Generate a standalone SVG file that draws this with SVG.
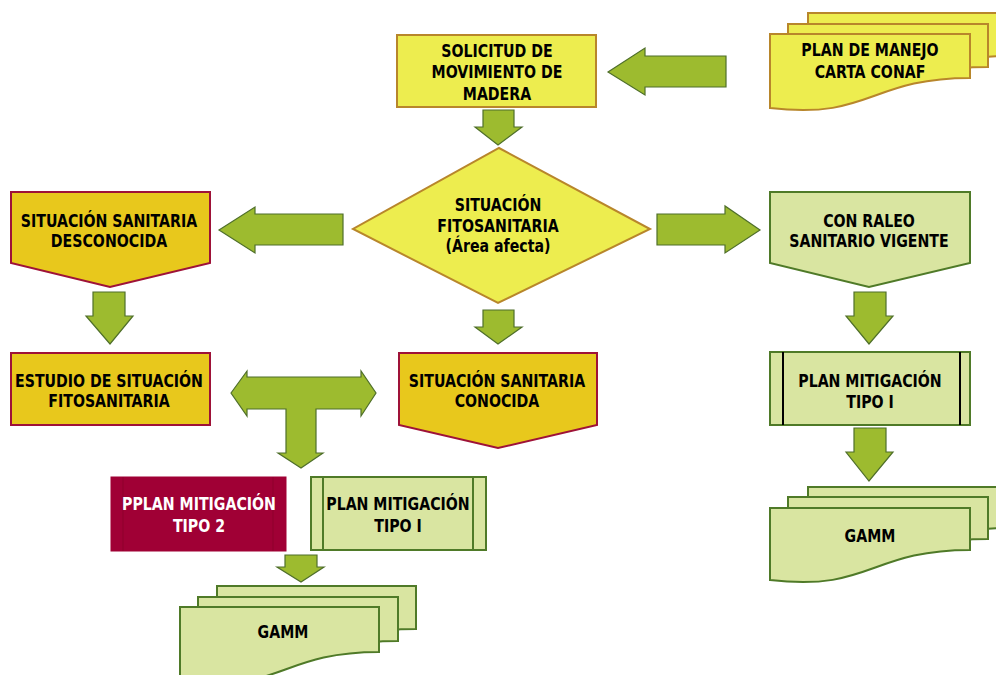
<svg xmlns="http://www.w3.org/2000/svg" width="996" height="675" viewBox="0 0 996 675">
<style>
.t{font-family:"DejaVu Sans Condensed","DejaVu Sans",sans-serif;font-weight:bold;font-size:17.5px;text-anchor:middle;fill:#000}
.w{fill:#fff}
.yel{fill:#EDED4F;stroke:#B8862B;stroke-width:2}
.gold{fill:#E8C81C;stroke:#9E1238;stroke-width:2}
.lg{fill:#D9E5A1;stroke:#4F7A28;stroke-width:2}
.red{fill:#A00035;stroke:#A00035;stroke-width:1}
.arr{fill:#9DBB2F;stroke:#4F6F2A;stroke-width:1.2}
</style>
<rect width="996" height="675" fill="#fff"/>
<g id="connectors">
<polygon class="arr" points="608,72 645,48 645,56 726,56 726,87 645,87 645,95"/>
<polygon class="arr" points="483,110 514,110 514,127 522,127 498,145 475,127 483,127"/>
<polygon class="arr" points="219,230 255,207 255,214 343,214 343,245 255,245 255,253"/>
<polygon class="arr" points="657,214 725,214 725,206 760,230 725,253 725,245 657,245"/>
<polygon class="arr" points="93,292 125,292 125,316 133,316 110,344 86,316 93,316"/>
<polygon class="arr" points="483,310 514,310 514,327 522,327 498,344 475,327 483,327"/>
<polygon class="arr" points="854,292 886,292 886,316 893,316 869,344 846,316 854,316"/>
<polygon class="arr" points="854,428 886,428 886,452 893,452 869,481 846,452 854,452"/>
<polygon class="arr" points="231,393 247,371 247,377 361,377 361,371 376,393 361,416 361,409 316,409 316,453 323,453 301,468 278,453 286,453 286,409 247,409 247,416"/>
<polygon class="arr" points="285,555 317,555 317,567 324,567 301,582 277,567 285,567"/>
</g>
<g id="plan-manejo">
<path class="yel" d="M808,13 H1008 V56 C908,56 908,98 808,86 Z"/>
<path class="yel" d="M788,24 H988 V67 C888,67 888,109 788,97 Z"/>
<path class="yel" d="M770,34 H970 V78 C870,78 870,120 770,108 Z"/>
<g transform="matrix(0.9,0,0,1,87,0)">
<text class="t" x="870" y="56">PLAN DE MANEJO</text>
<text class="t" x="870" y="78">CARTA CONAF</text>
</g>
</g>
<g id="solicitud">
<rect class="yel" x="397" y="35" width="199" height="72"/>
<g transform="matrix(0.9,0,0,1,49.7,0)">
<text class="t" x="497" y="57">SOLICITUD DE</text>
<text class="t" x="497" y="78.5">MOVIMIENTO DE</text>
<text class="t" x="497" y="100">MADERA</text>
</g>
</g>
<g id="situacion-fitosanitaria">
<polygon class="yel" points="499,148 650,229 498,303 353,229"/>
<g transform="matrix(0.9,0,0,1,49.8,0)">
<text class="t" x="498" y="211">SITUACIÓN</text>
<text class="t" x="498" y="232">FITOSANITARIA</text>
<text class="t" x="498" y="252">(Área afecta)</text>
</g>
</g>
<g id="desconocida">
<path class="gold" d="M11,192 H210 V263 L110,287 L11,263 Z"/>
<g transform="matrix(0.9,0,0,1,10.9,0)">
<text class="t" x="109" y="227">SITUACIÓN SANITARIA</text>
<text class="t" x="109" y="247">DESCONOCIDA</text>
</g>
</g>
<g id="con-raleo">
<path class="lg" d="M770,192 H970 V263 L869,287 L770,263 Z"/>
<g transform="matrix(0.9,0,0,1,86.9,0)">
<text class="t" x="869" y="227">CON RALEO</text>
<text class="t" x="869" y="247">SANITARIO VIGENTE</text>
</g>
</g>
<g id="estudio">
<rect class="gold" x="11" y="353" width="199" height="72"/>
<g transform="matrix(0.9,0,0,1,10.9,0)">
<text class="t" x="109" y="387">ESTUDIO DE SITUACIÓN</text>
<text class="t" x="109" y="407">FITOSANITARIA</text>
</g>
</g>
<g id="conocida">
<path class="gold" d="M399,353 H597 V425 L498,448 L399,425 Z"/>
<g transform="matrix(0.9,0,0,1,49.7,0)">
<text class="t" x="497" y="387">SITUACIÓN SANITARIA</text>
<text class="t" x="497" y="407">CONOCIDA</text>
</g>
</g>
<g id="plan-tipo1-right">
<rect class="lg" x="770" y="352" width="200" height="73"/>
<line x1="783" y1="352" x2="783" y2="425" stroke="#000" stroke-width="2"/>
<line x1="960" y1="352" x2="960" y2="425" stroke="#000" stroke-width="2"/>
<g transform="matrix(0.9,0,0,1,87,0)">
<text class="t" x="870" y="387">PLAN MITIGACIÓN</text>
<text class="t" x="870" y="408">TIPO I</text>
</g>
</g>
<g id="gamm-right">
<path class="lg" d="M808,487 H1008 V528 C908,528 908,570 808,558 Z"/>
<path class="lg" d="M788,497 H988 V539 C888,539 888,581 788,569 Z"/>
<path class="lg" d="M770,508 H970 V550 C870,550 870,592 770,580 Z"/>
<g transform="matrix(0.9,0,0,1,87,0)">
<text class="t" x="870" y="542">GAMM</text>
</g>
</g>
<g id="plan-tipo2">
<rect class="red" x="111" y="477" width="175" height="74"/>
<line x1="123" y1="477" x2="123" y2="551" stroke="#8E002C" stroke-width="1"/>
<line x1="273" y1="477" x2="273" y2="551" stroke="#8E002C" stroke-width="1"/>
<g transform="matrix(0.9,0,0,1,19.9,0)">
<text class="t w" x="199" y="510">PPLAN MITIGACIÓN</text>
<text class="t w" x="199" y="532">TIPO 2</text>
</g>
</g>
<g id="plan-tipo1-left">
<rect class="lg" x="311" y="477" width="175" height="73"/>
<line x1="323" y1="477" x2="323" y2="550" stroke="#4F7A28" stroke-width="2"/>
<line x1="473" y1="477" x2="473" y2="550" stroke="#4F7A28" stroke-width="2"/>
<g transform="matrix(0.9,0,0,1,39.8,0)">
<text class="t" x="398" y="510">PLAN MITIGACIÓN</text>
<text class="t" x="398" y="532">TIPO I</text>
</g>
</g>
<g id="gamm-left">
<path class="lg" d="M217,586 H416 V629 C316,629 316,671 217,659 Z"/>
<path class="lg" d="M198,597 H398 V641 C298,641 298,683 198,671 Z"/>
<path class="lg" d="M180,607 H379 V652 C280,652 280,694 180,682 Z"/>
<g transform="matrix(0.9,0,0,1,28.3,0)">
<text class="t" x="283" y="638">GAMM</text>
</g>
</g>
</svg>
